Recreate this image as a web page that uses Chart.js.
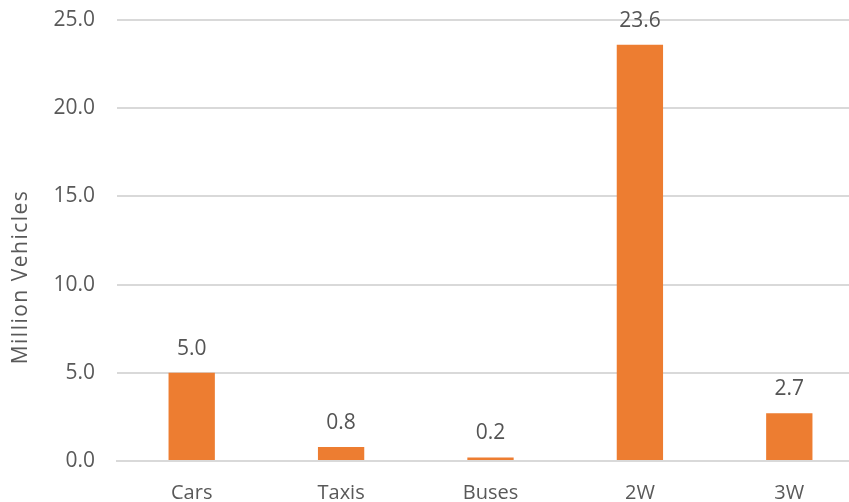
<!DOCTYPE html>
<html>
<head>
<meta charset="utf-8">
<script src="https://cdn.jsdelivr.net/npm/chart.js@4"></script>
<style>
  html, body { margin: 0; padding: 0; overflow: hidden; background: #fff; }
  #wrap { width: 864px; height: 502px; }
</style>
</head>
<body>
<div id="wrap"><canvas id="myChart" width="864" height="502"></canvas></div>
<script>
var categories = ['Cars', 'Taxis', 'Buses', '2W', '3W'];
var vehicles = [5.0, 0.8, 0.2, 23.6, 2.7];
var yTitle = 'Million Vehicles';

var textColor = '#595959';
var fontFamily = '"Open Sans", sans-serif';

// value labels on top of each bar
var barLabels = {
  id: 'barLabels',
  afterDatasetsDraw: function(chart) {
    var ctx = chart.ctx;
    var meta = chart.getDatasetMeta(0);
    ctx.save();
    ctx.font = '21px ' + fontFamily;
    ctx.fillStyle = '#545454';
    ctx.textAlign = 'center';
    ctx.textBaseline = 'alphabetic';
    meta.data.forEach(function(bar, i) {
      ctx.fillText(vehicles[i].toFixed(1), bar.x, bar.y - 18);
    });
    ctx.restore();
  }
};

// axis title, placed like the original (lower than the plot centre)
var axisTitle = {
  id: 'axisTitle',
  afterDraw: function(chart) {
    var ctx = chart.ctx;
    ctx.save();
    ctx.translate(21, 277);
    ctx.rotate(-Math.PI / 2);
    ctx.font = '21px ' + fontFamily;
    ctx.letterSpacing = '1.5px';
    ctx.fillStyle = textColor;
    ctx.textAlign = 'center';
    ctx.textBaseline = 'middle';
    ctx.fillText(yTitle, 0, 0);
    ctx.restore();
  }
};

var ctx = document.getElementById('myChart').getContext('2d');
var chart = new Chart(ctx, {
  type: 'bar',
  data: {
    labels: categories,
    datasets: [{
      data: vehicles,
      backgroundColor: '#ED7D31',
      borderWidth: 0,
      categoryPercentage: 1,
      barPercentage: 0.31
    }]
  },
  options: {
    responsive: false,
    animation: false,
    devicePixelRatio: 1,
    layout: { padding: { top: 20, left: 0, right: 0, bottom: 0 } },
    plugins: {
      legend: { display: false },
      tooltip: { enabled: false }
    },
    scales: {
      x: {
        grid: { display: false },
        border: { color: '#D9D9D9', width: 2 },
        ticks: {
          color: textColor,
          font: { family: fontFamily, size: 20 },
          padding: 12
        },
        afterFit: function(scale) { scale.height = 41; }
      },
      y: {
        min: 0,
        max: 25,
        grid: { color: '#D9D9D9', lineWidth: 2, drawTicks: false },
        border: { display: false },
        ticks: {
          stepSize: 5,
          color: textColor,
          font: { family: fontFamily, size: 21 },
          padding: 22,
          callback: function(v) { return v.toFixed(1); }
        },
        afterFit: function(scale) {
          scale.width = 117;
          scale.paddingTop = 0;
          scale.paddingBottom = 0;
        }
      }
    }
  },
  plugins: [barLabels, axisTitle]
});
</script>
</body>
</html>
